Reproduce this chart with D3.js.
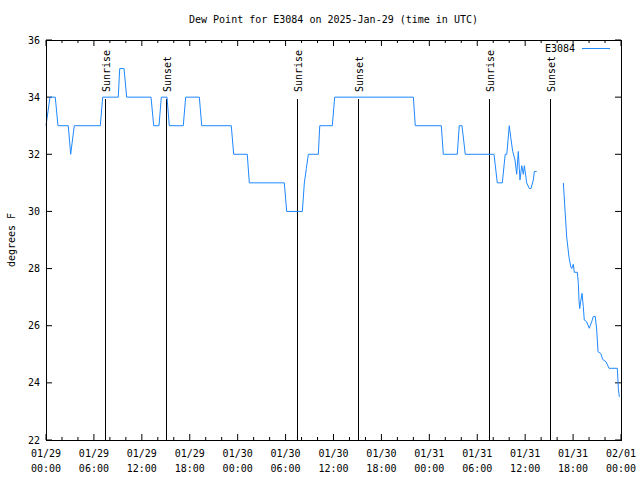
<!DOCTYPE html>
<html>
<head>
    <title>Dew Point</title>
    <script src="https://cdn.jsdelivr.net/npm/d3@7/dist/d3.min.js"></script>
	<meta charset="utf-8" />
    <style>
        body { margin: 0; background: #fff; }
        text { font-family: "DejaVu Sans Mono", monospace; font-size: 10px; fill: #000; }
    </style>
</head>
<body>
    <script>
        // hours since 2025-01-29 00:00 UTC, dew point in F (null = gap)
        var hours = [0.0, 0.5, 1.16, 1.5, 2.79, 3.09, 3.54, 6.8, 7.1, 9.05, 9.23, 9.77, 10.1,
            13.15, 13.49, 14.15, 14.44, 15.15, 15.44, 17.19, 17.49, 19.2, 19.5, 23.2, 23.5,
            25.2, 25.46, 29.84, 30.14, 32.1, 32.35, 32.6, 32.85, 34.1, 34.28, 35.85, 36.15,
            46.0, 46.24, 49.5, 49.75, 51.5, 51.75, 52.09, 52.5, 56.1, 56.51, 57.14, 57.5,
            57.7, 58.01, 58.19, 58.44, 58.73, 58.94, 59.14, 59.35, 59.57, 59.77, 59.9, 60.19,
            60.52, 60.73, 61.02, 61.15, 61.45, 63.0,
            64.78, 64.99, 65.2, 65.49, 65.7, 65.83, 66.03, 66.15, 66.53, 66.66, 66.74, 66.83,
            66.95, 67.12, 67.28, 67.4, 67.7, 68.03, 68.33, 68.53, 68.78, 68.96, 69.12, 69.46,
            69.71, 70.12, 70.5, 71.54, 71.67, 71.79];
        var dewpt = [33, 34, 34, 33, 33, 32, 33, 33, 34, 34, 35, 35, 34,
            34, 33, 33, 34, 34, 33, 33, 34, 34, 33, 33, 32,
            32, 31, 31, 30, 30, 31, 31.5, 32, 32, 33, 33, 34,
            34, 33, 33, 32, 32, 33, 33, 32, 32, 31, 31, 32,
            32, 33, 32.6, 32.1, 31.8, 31.3, 32.1, 31.1, 31.6, 31.3, 31.6, 31.0,
            30.8, 30.8, 31.1, 31.4, 31.4, null,
            31.0, 30.05, 29.1, 28.4, 28.07, 28.0, 28.15, 27.87, 27.87, 27.48, 26.9, 26.6,
            26.84, 27.13, 26.67, 26.2, 26.14, 25.91, 26.14, 26.32, 26.32, 25.85, 25.09, 25.03,
            24.82, 24.74, 24.51, 24.51, 23.8, 23.51];

        var sunLabels = ["Sunrise", "Sunset", "Sunrise", "Sunset", "Sunrise", "Sunset"];
        var sunHours = [7.42, 15.05, 31.42, 39.05, 55.42, 63.05];

        var yTicks = [22, 24, 26, 28, 30, 32, 34, 36];

        var width = 640;
        var height = 480;
        var margin = { top: 40, right: 19, bottom: 40, left: 46 };
        var w = width - margin.left - margin.right;
        var h = height - margin.top - margin.bottom;

        var start = Date.UTC(2025, 0, 29, 0, 0);
        function toDate(hr) { return new Date(start + hr * 3600000); }

        var x = d3.scaleUtc()
            .domain([toDate(0), toDate(72)])
            .range([0, w]);
        var y = d3.scaleLinear()
            .domain([22, 36])
            .range([h, 0]);

        var svg = d3.select("body")
            .append("svg")
            .attr("width", width)
            .attr("height", height);

        svg.append("text")
            .attr("x", margin.left + w / 2)
            .attr("y", 23)
            .attr("text-anchor", "middle")
            .text("Dew Point for E3084 on 2025-Jan-29 (time in UTC)");

        svg.append("text")
            .attr("transform", "translate(15," + (margin.top + h / 2) + ") rotate(-90)")
            .attr("text-anchor", "middle")
            .text("degrees F");

        var g = svg.append("g")
            .attr("transform", "translate(" + margin.left + "," + margin.top + ")");

        var majorTicks = x.ticks(d3.utcHour.every(6));
        var minorTicks = x.ticks(d3.utcHour.every(2)).filter(function (d) { return d.getUTCHours() % 6 != 0; });
        var fmtDate = d3.utcFormat("%m/%d");
        var fmtTime = d3.utcFormat("%H:%M");

        // x ticks, bottom and top, pointing inward
        function tickLines(data, len) {
            g.selectAll(null).data(data).enter().append("line")
                .attr("x1", function (d) { return x(d); }).attr("x2", function (d) { return x(d); })
                .attr("y1", h).attr("y2", h - len)
                .attr("stroke", "#000");
            g.selectAll(null).data(data).enter().append("line")
                .attr("x1", function (d) { return x(d); }).attr("x2", function (d) { return x(d); })
                .attr("y1", 0).attr("y2", len)
                .attr("stroke", "#000");
        }
        tickLines(majorTicks, 6);
        tickLines(minorTicks, 3);

        var xl = g.selectAll(".xlab").data(majorTicks).enter().append("text")
            .attr("class", "xlab")
            .attr("text-anchor", "middle");
        xl.append("tspan")
            .attr("x", function (d) { return x(d); })
            .attr("y", h + 17)
            .text(function (d) { return fmtDate(d); });
        xl.append("tspan")
            .attr("x", function (d) { return x(d); })
            .attr("y", h + 32)
            .text(function (d) { return fmtTime(d); });

        // y ticks, left and right
        g.selectAll(null).data(yTicks).enter().append("line")
            .attr("x1", 0).attr("x2", 6)
            .attr("y1", function (d) { return y(d); }).attr("y2", function (d) { return y(d); })
            .attr("stroke", "#000");
        g.selectAll(null).data(yTicks).enter().append("line")
            .attr("x1", w).attr("x2", w - 6)
            .attr("y1", function (d) { return y(d); }).attr("y2", function (d) { return y(d); })
            .attr("stroke", "#000");
        g.selectAll(".ylab").data(yTicks).enter().append("text")
            .attr("class", "ylab")
            .attr("x", -6)
            .attr("y", function (d) { return y(d); })
            .attr("dy", "0.35em")
            .attr("text-anchor", "end")
            .text(function (d) { return d; });

        // sunrise / sunset markers
        var sun = g.selectAll(".sun").data(sunHours).enter().append("g").attr("class", "sun");
        sun.append("line")
            .attr("x1", function (d) { return Math.round(x(toDate(d))) + 0.5; })
            .attr("x2", function (d) { return Math.round(x(toDate(d))) + 0.5; })
            .attr("y1", h).attr("y2", 59)
            .attr("stroke", "#000");
        sun.append("text")
            .attr("transform", function (d) { return "translate(" + (x(toDate(d)) + 5) + ",52) rotate(-90)"; })
            .text(function (d, i) { return sunLabels[i]; });

        var points = hours.map(function (hr, i) { return { t: toDate(hr), v: dewpt[i] }; });

        var line = d3.line()
            .defined(function (d) { return d.v != null; })
            .x(function (d) { return x(d.t); })
            .y(function (d) { return y(d.v); });

        g.append("path")
            .datum(points)
            .attr("d", line)
            .attr("fill", "none")
            .attr("stroke", "#1e88ff")
            .attr("stroke-width", 1);

        // frame
        g.append("rect")
            .attr("x", 0.5).attr("y", 0.5)
            .attr("width", w).attr("height", h)
            .attr("fill", "none")
            .attr("stroke", "#000");

        // legend
        svg.append("text")
            .attr("x", 575)
            .attr("y", 52)
            .attr("text-anchor", "end")
            .text("E3084");
        svg.append("line")
            .attr("x1", 582).attr("x2", 610)
            .attr("y1", 48.5).attr("y2", 48.5)
            .attr("stroke", "#1e88ff");
    </script>
</body>
</html>
